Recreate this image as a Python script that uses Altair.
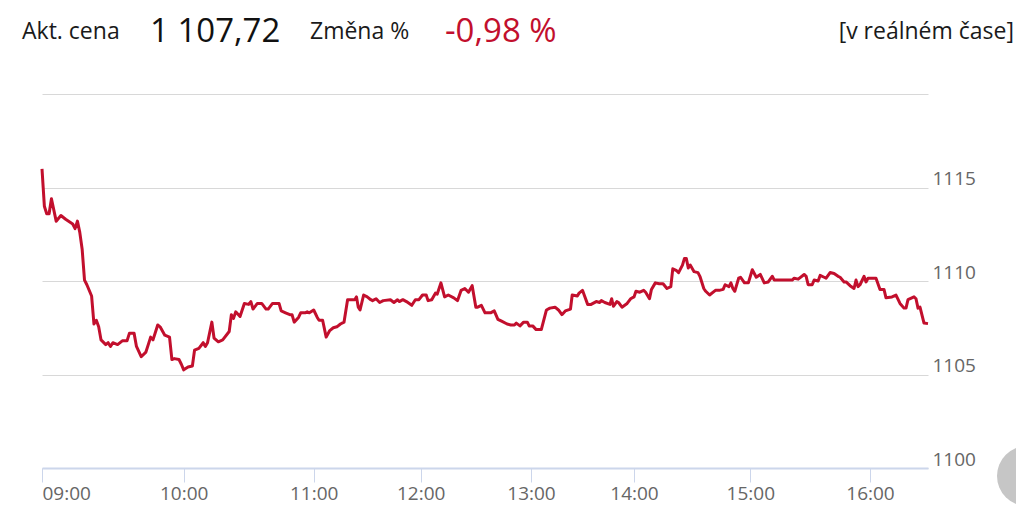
import altair as alt
import pandas as pd

# ---- intraday data (time "HH:MM", price) ----
t09 = ["09:00","09:01","09:02","09:03","09:04","09:06","09:08","09:10","09:13","09:14","09:15","09:16",
       "09:17","09:18","09:19","09:21","09:22","09:23","09:24","09:25","09:27","09:28","09:29","09:30",
       "09:32","09:34","09:36","09:37","09:39","09:40","09:42","09:44","09:45","09:46","09:47","09:49",
       "09:50","09:52","09:54","09:55","09:56","09:58","09:59"]
p09 = [1116.0,1114.0,1113.6,1113.6,1114.4,1113.2,1113.5,1113.3,1113.05,1112.8,1113.2,1112.6,
       1111.7,1110.05,1109.8,1109.2,1107.7,1107.9,1107.55,1106.85,1106.6,1106.7,1106.5,1106.7,
       1106.6,1106.8,1106.8,1107.2,1107.2,1106.5,1105.95,1106.2,1106.6,1107.0,1106.85,1107.65,
       1107.55,1107.1,1107.0,1105.8,1105.85,1105.8,1105.55]

t10 = ["10:00","10:02","10:04","10:05","10:07","10:09","10:10","10:11","10:13","10:14","10:16","10:18",
       "10:21","10:22","10:23","10:24","10:26","10:28","10:30","10:31","10:32","10:34","10:36","10:38",
       "10:39","10:41","10:44","10:45","10:47","10:49","10:50","10:51","10:53","10:54","10:56","10:57","10:58"]
p10 = [1105.25,1105.4,1105.45,1106.3,1106.4,1106.7,1106.5,1106.7,1107.8,1106.95,1106.75,1106.85,
       1107.3,1108.2,1108.0,1108.35,1108.1,1108.8,1108.75,1108.9,1108.5,1108.8,1108.8,1108.5,
       1108.5,1108.8,1108.8,1108.4,1108.3,1108.2,1108.2,1107.8,1108.05,1108.3,1108.3,1108.35,1108.3]

t11 = ["11:00","11:02","11:03","11:05","11:07","11:09","11:11","11:13","11:15","11:17","11:19","11:22",
       "11:23","11:24","11:25","11:26","11:28","11:30","11:32","11:33","11:35","11:37","11:39","11:43",
       "11:45","11:47","11:48","11:50","11:52","11:55","11:57","11:59"]
p11 = [1108.45,1108.05,1107.9,1107.9,1107.0,1107.35,1107.5,1107.55,1107.7,1107.8,1109.0,1109.0,
       1109.0,1109.15,1108.6,1108.45,1109.25,1109.15,1109.0,1108.95,1109.05,1108.85,1108.95,1109.0,
       1108.85,1109.0,1108.9,1109.0,1108.9,1108.7,1109.0,1109.0]

t12 = ["12:01","12:03","12:04","12:06","12:08","12:09","12:11","12:13","12:15","12:18","12:20","12:22",
       "12:24","12:26","12:28","12:30","12:31","12:33","12:35","12:38","12:40","12:42","12:44","12:47",
       "12:49","12:51","12:52","12:54","12:56","12:58","12:59"]
p12 = [1109.25,1109.25,1108.95,1109.0,1109.35,1109.3,1109.9,1109.15,1109.25,1109.1,1108.95,1109.5,
       1109.6,1109.4,1109.75,1108.6,1108.6,1108.7,1108.3,1108.3,1108.4,1107.95,1107.85,1107.7,
       1107.65,1107.65,1107.75,1107.6,1107.8,1107.8,1107.6]

t13 = ["13:01","13:03","13:06","13:09","13:11","13:14","13:16","13:18","13:20","13:23","13:24","13:27",
       "13:28","13:30","13:31","13:33","13:35","13:38","13:40","13:41","13:43","13:46","13:47","13:48",
       "13:50","13:51","13:53","13:56","13:58"]
p13 = [1107.6,1107.4,1107.4,1108.45,1108.55,1108.6,1108.45,1108.2,1108.4,1108.5,1109.25,1109.2,
       1109.35,1109.5,1109.25,1108.75,1108.75,1108.9,1108.85,1108.95,1108.85,1108.75,1109.05,1108.65,
       1108.9,1108.85,1108.6,1108.8,1109.05]

t14 = ["14:00","14:01","14:03","14:05","14:06","14:08","14:09","14:11","14:13","14:15","14:17","14:19",
       "14:20","14:22","14:23","14:25","14:26","14:27","14:28","14:29","14:31","14:33","14:34","14:36",
       "14:37","14:39","14:42","14:44","14:46","14:47","14:49","14:50","14:51","14:52","14:54","14:55",
       "14:57","14:59"]
p14 = [1109.15,1109.45,1109.4,1109.5,1109.4,1109.05,1109.55,1109.9,1109.85,1109.85,1109.6,1109.7,
       1110.65,1110.55,1110.45,1110.85,1111.2,1111.2,1110.7,1110.85,1110.5,1110.45,1110.25,1109.6,
       1109.45,1109.25,1109.5,1109.5,1109.55,1109.8,1109.7,1109.9,1109.6,1109.45,1110.15,1110.2,
       1109.9,1109.9]

t15 = ["15:01","15:02","15:03","15:05","15:07","15:09","15:11","15:12","15:16","15:19","15:21","15:22",
       "15:24","15:27","15:28","15:29","15:31","15:32","15:34","15:35","15:37","15:38","15:40","15:42",
       "15:44","15:45","15:47","15:48","15:50","15:52","15:53","15:54","15:55","15:57","15:58","15:59"]
p15 = [1110.6,1110.4,1110.2,1110.35,1109.9,1109.95,1110.25,1110.05,1110.05,1110.05,1110.05,1110.15,
       1110.1,1110.35,1110.25,1109.8,1109.8,1110.05,1110.0,1110.3,1110.2,1110.15,1110.45,1110.4,
       1110.25,1110.2,1109.95,1109.95,1109.75,1109.6,1110.05,1109.7,1109.8,1110.25,1109.95,1110.15]

t16 = ["16:02","16:03","16:05","16:07","16:08","16:11","16:13","16:15","16:17","16:18","16:19","16:22",
       "16:23","16:24","16:25","16:27","16:29"]
p16 = [1110.15,1110.15,1109.55,1109.55,1109.1,1109.15,1109.25,1108.8,1108.55,1108.55,1109.0,1109.15,
       1109.05,1108.55,1108.6,1107.75,1107.72]

# axis: hour ticks (minutes from midnight) and the last traded minute
hour_ticks = [540, 600, 660, 720, 780, 840, 900, 960]
session_end = 989
y_ticks = [1100, 1105, 1110, 1115, 1120]

# header texts
lbl_price = "Akt. cena"
val_price = "1 107,72"
lbl_change = "Změna %"
val_change = "-0,98 %"
lbl_rt = "[v reálném čase]"

times = t09 + t10 + t11 + t12 + t13 + t14 + t15 + t16
prices = p09 + p10 + p11 + p12 + p13 + p14 + p15 + p16
assert len(times) == len(prices)


def to_min(s):
    h, m = s.split(":")
    return int(h) * 60 + int(m)


df = pd.DataFrame({"t": [to_min(s) for s in times], "price": prices, "i": list(range(len(times)))})

W, H = 886, 374
# ordinal-style (trading-time) axis: hours are not evenly spaced on the page
x_range = [0, 141.7, 271.7, 378.7, 489, 592, 708.3, 828, 886]

FONT = "Open Sans"
RED = "#c20f2d"

x_enc = alt.X(
    "t:Q",
    scale=alt.Scale(domain=hour_ticks + [session_end], range=x_range, nice=False, zero=False),
    axis=alt.Axis(
        values=hour_ticks,
        labelExpr="(floor(datum.value/60) < 10 ? '0' : '') + floor(datum.value/60) + ':00'",
        title=None, grid=False, domainColor="#ccd6eb", domainWidth=2,
        tickColor="#ccd6eb", tickSize=14, tickWidth=1,
        labelColor="#666666", labelFontSize=19, labelFont=FONT, labelPadding=2,
        labelFlush=True, labelOverlap=False,
    ),
)
y_enc = alt.Y(
    "price:Q",
    scale=alt.Scale(domain=[1100, 1120], nice=False, zero=False),
    axis=alt.Axis(
        orient="right", values=y_ticks, format="d",
        labelExpr="datum.value == 1120 ? '' : datum.label",
        title=None, grid=True, gridColor="#d8d8d8", gridWidth=1,
        domain=False, ticks=False, labelAlign="left", labelBaseline="alphabetic",
        labelOffset=-3, labelPadding=4,
        labelColor="#666666", labelFontSize=19, labelFont=FONT,
    ),
)

line = alt.Chart(df).mark_line(color=RED, strokeWidth=3, strokeJoin="round").encode(
    x=x_enc, y=y_enc, order="i:Q"
)

one = pd.DataFrame({"k": [0]})


def header(text, x, size, color="#1a1a1a", align="left"):
    return alt.Chart(one).mark_text(
        text=text, font=FONT, fontSize=size, color=color, align=align, baseline="middle"
    ).encode(x=alt.value(x), y=alt.value(-62))


texts = [
    header(lbl_price, -20, 23),
    header(val_price, 108, 33, "#111111"),
    header(lbl_change, 268, 23),
    header(val_change, 403, 33, RED),
    header(lbl_rt, 972, 23, align="right"),
]

button = alt.Chart(one).mark_circle(color="#c6c6c6", opacity=1, size=3600).encode(
    x=alt.value(985), y=alt.value(382)
)

chart = alt.layer(line, *texts, button).properties(
    width=W, height=H,
    autosize=alt.AutoSizeParams(type="none"),
    padding={"left": 34, "top": 86, "right": 88, "bottom": 38},
).configure(
    background="white",
    view=alt.ViewConfig(stroke="transparent", strokeWidth=0),
)

chart.save("out.html", embed_options={"renderer": "svg", "actions": False})
